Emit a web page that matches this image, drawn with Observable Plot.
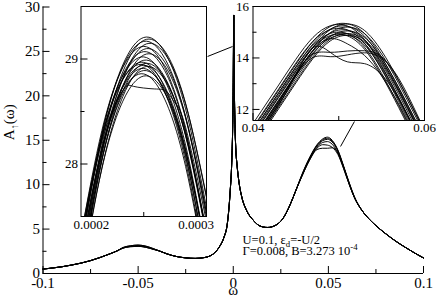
<!DOCTYPE html>
<html><head><meta charset="utf-8">
<script src="https://cdn.jsdelivr.net/npm/d3@7"></script>
<script src="https://cdn.jsdelivr.net/npm/@observablehq/plot@0.6"></script>
<style>
body{margin:0;background:#fff;}
#wrap{position:relative;width:436px;height:303px;}
#wrap svg{position:absolute;left:0;top:0;}
#wrap svg text, #wrap svg tspan{font-family:"Liberation Serif",serif !important;}
</style></head><body><div id="wrap"></div>
<script>
// ---------------- main plot data ----------------
const mainOmega = [-0.100,-0.095,-0.090,-0.085,-0.080,-0.075,-0.070,-0.065,-0.061,
  -0.039,-0.035,-0.030,-0.025,-0.020,-0.015,-0.012,-0.009,-0.007,-0.005,-0.003,-0.0016,-0.0008,-0.0003,0,0.0001,0.00018,0.00025,0.00032,0.0004,0.0006,0.0009,0.0013,0.002,0.003,0.0045,0.007,0.0105,0.014,0.018,0.022,0.026,0.030,0.033,
  0.068,0.072,0.076,0.080,0.085,0.090,0.095,0.100];
const mainA = [0.50,0.62,0.76,0.95,1.17,1.45,1.80,2.20,2.55,
  2.55,2.22,1.92,1.76,1.70,1.80,2.0,2.5,3.1,4.0,5.8,9.3,12.5,16.5,21.5,25.0,27.5,29.1,27.5,25.0,20.5,16.8,14.2,12.2,10.3,8.6,7.1,6.0,5.35,5.18,5.40,6.15,7.8,9.4,
  7.0,6.0,5.2,4.5,3.7,3.0,2.35,1.75];
const leftPeakOmega = [-0.058,-0.054,-0.050,-0.046,-0.042];
const leftPeakCurves = [
  [2.92,3.12,3.20,3.08,2.80],
  [2.88,3.06,3.12,3.00,2.75],
  [2.85,3.02,3.06,2.95,2.72]
];
const rightPeakOmega = [0.036,0.040,0.044,0.047,0.0495,0.052,0.055,0.058,0.061,0.064];
const rightPeakCurves = [
  [11.1,13.0,14.5,15.15,15.35,15.0,13.9,12.1,10.2,8.5],
  [11.05,12.95,14.4,15.05,15.22,14.9,13.85,12.05,10.15,8.45],
  [11.0,12.9,14.35,14.95,15.1,14.8,13.75,12.0,10.1,8.45],
  [10.95,12.8,14.2,14.75,14.85,14.55,13.55,11.85,10.0,8.4],
  [10.9,12.75,14.1,14.5,14.45,14.2,13.4,11.8,10.0,8.4],
  [10.9,12.7,13.95,14.1,14.1,14.15,13.6,12.0,10.05,8.4]
];
const mainXTicks = [-0.1,-0.05,0,0.05,0.1];
const mainXMinor = [-0.075,-0.025,0.025,0.075];
const mainYTicks = [0,5,10,15,20,25,30];
const mainYMinor = [2.5,7.5,12.5,17.5,22.5,27.5];
const connectorFrom = [[-0.0135,24.43],[0.0637,17.11]];
const connectorTo = [[-0.0004,25.55],[0.0564,14.30]];
const annotationLines = ["U=0.1, ε_{d}=-U/2","Γ=0.008, B=3.273 10^{-4}"];
const xLabel = "ω";
const yLabel = "A_{↑}(ω)";

// ---------------- inset 1 data (Kondo peak) ----------------
const inset1Omega = [0.00019,0.00021,0.00023,0.00025,0.00027,0.00029,0.00031];
const inset1Curves = [
 [27.225,28.285,28.945,29.205,29.065,28.525,27.585],
 [27.078,28.178,28.878,29.178,29.078,28.578,27.678],
 [27.248,28.288,28.928,29.168,29.008,28.448,27.488],
 [26.972,28.092,28.812,29.132,29.052,28.572,27.692],
 [27.32,28.32,28.92,29.12,28.92,28.32,27.32],
 [27.052,28.132,28.812,29.092,28.972,28.452,27.532],
 [27.21,28.23,28.85,29.07,28.89,28.31,27.33],
 [26.938,28.038,28.738,29.038,28.938,28.438,27.538],
 [27.28,28.26,28.84,29.02,28.80,28.18,27.16],
 [27.068,28.108,28.748,28.988,28.828,28.268,27.308],
 [27.288,28.248,28.808,28.968,28.728,28.088,27.048],
 [26.975,28.035,28.695,28.955,28.815,28.275,27.335],
 [27.325,28.265,28.805,28.945,28.685,28.025,26.965],
 [27.14,28.14,28.74,28.94,28.74,28.14,27.14],
 [26.882,27.962,28.642,28.922,28.802,28.282,27.362],
 [27.17,28.15,28.73,28.91,28.69,28.07,27.05],
 [27.03,28.05,28.67,28.89,28.71,28.13,27.15],
 [27.178,28.138,28.698,28.858,28.618,27.978,26.938],
 [26.918,27.958,28.598,28.838,28.678,28.118,27.158]
];
const inset1FlatOmega = [0.00019,0.00021,0.00023,0.00024,0.00026,0.000272,0.00028,0.00029,0.00031];
const inset1Flat = [27.22,28.22,28.70,28.74,28.715,28.69,28.58,28.35,27.45];
const inset1XTicks = [0.0002,0.0003];
const inset1XMinor = [0.00025];
const inset1YTicks = [28,29];
const inset1YMinor = [28.5];

// ---------------- inset 2 data (upper Hubbard peak) ----------------
const inset2Omega = [0.039,0.041,0.043,0.045,0.047,0.049,0.051,0.053,0.055,0.057,0.059,0.061];
const inset2Curves = [
 [10.75,11.75,12.75,13.75,14.65,15.22,15.33,14.95,14.03,12.83,11.53,10.25],
 [10.47,11.47,12.47,13.47,14.42,15.10,15.32,15.07,14.27,13.12,11.82,10.52],
 [10.95,11.95,12.95,13.95,14.80,15.25,15.24,14.72,13.70,12.45,11.15,9.90],
 [10.65,11.65,12.65,13.65,14.55,15.12,15.23,14.85,13.93,12.73,11.43,10.15],
 [10.35,11.35,12.35,13.35,14.30,14.98,15.20,14.95,14.15,13.00,11.70,10.40],
 [10.80,11.80,12.80,13.80,14.65,15.10,15.09,14.57,13.55,12.30,11.00,9.75],
 [10.50,11.50,12.50,13.50,14.40,14.97,15.08,14.70,13.78,12.58,11.28,10.00],
 [10.20,11.20,12.20,13.20,14.15,14.83,15.05,14.80,14.00,12.85,11.55,10.25],
 [10.65,11.65,12.65,13.65,14.50,14.95,14.94,14.42,13.40,12.15,10.85,9.60],
 [10.37,11.37,12.37,13.37,14.27,14.84,14.95,14.57,13.65,12.45,11.15,9.87],
 [10.10,11.10,12.10,13.10,14.05,14.73,14.95,14.70,13.90,12.75,11.45,10.15],
 [10.57,11.57,12.57,13.57,14.42,14.87,14.86,14.34,13.32,12.07,10.77,9.52],
 [10.30,11.30,12.30,13.30,14.20,14.77,14.88,14.50,13.58,12.38,11.08,9.80],
 [10.03,11.03,12.03,13.03,13.98,14.66,14.88,14.63,13.83,12.68,11.38,10.08],
 [10.3,11.3,12.3,13.35,14.3,14.75,14.55,14.1,13.3,12.2,10.9,9.6],
 [10.2,11.2,12.2,13.35,14.40,14.22,13.85,13.78,13.35,12.4,11.1,9.8],
 [10.2,11.15,12.15,13.3,14.02,14.05,14.12,14.2,14.0,13.2,11.9,10.5],
 [10.25,11.25,12.25,13.4,14.15,14.22,14.27,14.28,14.05,13.1,11.8,10.4]
];
const inset2XTicks = [0.04,0.06];
const inset2XMinor = [0.05];
const inset2YTicks = [12,14,16];
const inset2YMinor = [13,15];

// ---------------- build tables ----------------
const mainPoints = [];
rightPeakCurves.forEach((rc, i) => {
  const pts = mainOmega.map((w, j) => ({w, a: mainA[j], id: i}));
  leftPeakCurves[i % leftPeakCurves.length].forEach((a, j) => pts.push({w: leftPeakOmega[j], a, id: i}));
  rc.forEach((a, j) => pts.push({w: rightPeakOmega[j], a, id: i}));
  pts.sort((p, q) => p.w - q.w);
  mainPoints.push(...pts);
});
const inset1Points = [];
inset1Curves.forEach((c, i) => c.forEach((a, j) => inset1Points.push({w: inset1Omega[j], a, id: i})));
inset1Flat.forEach((a, j) => inset1Points.push({w: inset1FlatOmega[j], a, id: "flat"}));
const inset2Points = [];
inset2Curves.forEach((c, i) => c.forEach((a, j) => inset2Points.push({w: inset2Omega[j], a, id: i})));
const connectors = connectorFrom.map((f, i) => ({x1: f[0], y1: f[1], x2: connectorTo[i][0], y2: connectorTo[i][1]}));

const W = 436, H = 303;
const fmt = d => String(d);
const styleStr = (fs, bg) => `font-family: 'Liberation Serif', serif; font-size: ${fs}px; background: ${bg}; color: black; overflow: visible;`;

function tickMarks(fw, fh, xt, xm, yt, ym) {
  return [
    Plot.tickX(xt, {x: d => d, insetTop: fh - 7, stroke: "black", strokeWidth: 1}),
    Plot.tickX(xm, {x: d => d, insetTop: fh - 4, stroke: "black", strokeWidth: 1}),
    Plot.tickY(yt, {y: d => d, insetRight: fw - 7, stroke: "black", strokeWidth: 1}),
    Plot.tickY(ym, {y: d => d, insetRight: fw - 4, stroke: "black", strokeWidth: 1})
  ];
}

// main plot
const mL = 42.5, mR = 13, mT = 6.5, mB = 30;
const mainSvg = Plot.plot({
  width: W, height: H,
  marginLeft: mL, marginRight: mR, marginTop: mT, marginBottom: mB,
  style: styleStr(15, "white"),
  x: {domain: [-0.1, 0.1], ticks: mainXTicks, tickSize: 0, tickPadding: 4, tickFormat: fmt, label: null},
  y: {domain: [0, 30], ticks: mainYTicks, tickSize: 0, tickPadding: 3, tickFormat: fmt, label: null},
  marks: [
    Plot.line(mainPoints, {x: "w", y: "a", z: "id", curve: "monotone-x", stroke: "black", strokeWidth: 1}),
    Plot.link(connectors, {x1: "x1", y1: "y1", x2: "x2", y2: "y2", stroke: "black", strokeWidth: 1}),
    ...tickMarks(W - mL - mR, H - mT - mB, mainXTicks, mainXMinor, mainYTicks, mainYMinor),
    Plot.ruleX([-0.1], {stroke: "black", strokeWidth: 1}),
    Plot.ruleY([0], {stroke: "black", strokeWidth: 1}),
    Plot.text([xLabel], {text: d => d, frameAnchor: "bottom", dy: 21.5, fontSize: 15}),
    Plot.text([yLabel], {text: d => d, frameAnchor: "left", rotate: -90, dx: -34, fontSize: 15}),
    Plot.text([annotationLines[0]], {text: d => d, x: () => 0.0049, y: () => 3.8, textAnchor: "start", fontSize: 12.5}),
    Plot.text([annotationLines[1]], {text: d => d, x: () => 0.0049, y: () => 2.55, textAnchor: "start", fontSize: 12.5})
  ]
});

// inset 1
const i1L = 80.5, i1R = W - 206, i1T = 6, i1B = H - 216;
const inset1Svg = Plot.plot({
  width: W, height: H,
  marginLeft: i1L, marginRight: i1R, marginTop: i1T, marginBottom: i1B,
  style: styleStr(13, "transparent"),
  x: {domain: [0.00019, 0.00031], ticks: inset1XTicks, tickSize: 0, tickPadding: 3, tickFormat: fmt, label: null},
  y: {domain: [27.5, 29.5], ticks: inset1YTicks, tickSize: 0, tickPadding: 3, tickFormat: fmt, label: null},
  marks: [
    Plot.frame({fill: "white", stroke: null}),
    Plot.line(inset1Points, {x: "w", y: "a", z: "id", curve: "natural", stroke: "black", strokeWidth: 0.9, clip: true}),
    Plot.frame({stroke: "black", strokeWidth: 1}),
    ...tickMarks(W - i1L - i1R, H - i1T - i1B, inset1XTicks, inset1XMinor, inset1YTicks, inset1YMinor)
  ]
});

// inset 2
const i2L = 252.5, i2R = W - 424, i2T = 6, i2B = H - 120;
const inset2Svg = Plot.plot({
  width: W, height: H,
  marginLeft: i2L, marginRight: i2R, marginTop: i2T, marginBottom: i2B,
  style: styleStr(13, "transparent"),
  x: {domain: [0.04, 0.06], ticks: inset2XTicks, tickSize: 0, tickPadding: 2, tickFormat: fmt, label: null},
  y: {domain: [11.57, 16], ticks: inset2YTicks, tickSize: 0, tickPadding: 4, tickFormat: fmt, label: null},
  marks: [
    Plot.frame({fill: "white", stroke: null}),
    Plot.line(inset2Points, {x: "w", y: "a", z: "id", curve: "natural", stroke: "black", strokeWidth: 0.9, clip: true}),
    Plot.frame({stroke: "black", strokeWidth: 1}),
    ...tickMarks(W - i2L - i2R, H - i2T - i2B, inset2XTicks, inset2XMinor, inset2YTicks, inset2YMinor)
  ]
});

const wrap = document.getElementById("wrap");
[mainSvg, inset1Svg, inset2Svg].forEach(s => wrap.appendChild(s));

// rich text: _{sub} and ^{sup}
function richText(el) {
  const s = el.textContent;
  const fs = parseFloat(getComputedStyle(el).fontSize) || 13;
  const re = /([_^])\{([^}]*)\}/g;
  const parts = [];
  let last = 0, m;
  while ((m = re.exec(s))) {
    if (m.index > last) parts.push({t: s.slice(last, m.index), k: 0});
    parts.push({t: m[2], k: m[1] === "_" ? 1 : -1});
    last = re.lastIndex;
  }
  if (last < s.length) parts.push({t: s.slice(last), k: 0});
  while (el.firstChild) el.removeChild(el.firstChild);
  let shift = 0;
  for (const p of parts) {
    const sh = p.k === 1 ? 0.28 * fs : p.k === -1 ? -0.42 * fs : 0;
    const t = d3.select(el).append("tspan").text(p.t);
    if (p.k) t.attr("font-size", 0.7 * fs);
    if (sh !== shift) { t.attr("dy", sh - shift); shift = sh; }
  }
}
d3.select(wrap).selectAll("text, tspan").each(function() {
  if (this.children.length === 0 && /[_^]\{/.test(this.textContent)) richText(this);
});
</script></body></html>
